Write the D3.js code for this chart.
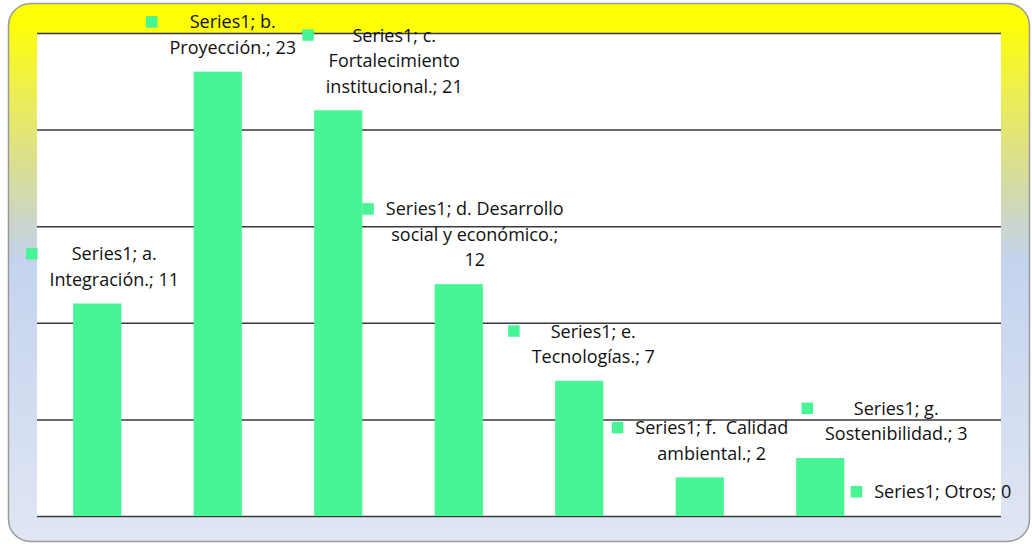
<!DOCTYPE html>
<html lang="es">
<head>
<meta charset="UTF-8">
<script src="https://cdnjs.cloudflare.com/ajax/libs/d3/7.8.5/d3.min.js"></script>
<style>
  * { margin: 0; padding: 0; }
  body { background: #fff; width: 1032px; height: 544px; overflow: hidden; }
  svg { display: block; font-family: 'Open Sans', sans-serif; }
  text { white-space: pre; }
</style>
</head>
<body>
<svg id="chart" width="1032" height="544"></svg>
<script>
// data
var seriesName = 'Series1';
var categories = ['a. Integración.', 'b. Proyección.', 'c. Fortalecimiento institucional.', 'd. Desarrollo social y económico.', 'e. Tecnologías.', 'f.  Calidad ambiental.', 'g. Sostenibilidad.', 'Otros'];
var values = [11, 23, 21, 12, 7, 2, 3, 0];
var yTicks = [0, 5, 10, 15, 20, 25];

// label layout (as placed in the original): wrapped lines and horizontal shift
var labelLines = [
  ['Series1; a.', 'Integración.; 11'],
  ['Series1; b.', 'Proyección.; 23'],
  ['Series1; c.', 'Fortalecimiento', 'institucional.; 21'],
  ['Series1; d. Desarrollo', 'social y económico.;', '12'],
  ['Series1; e.', 'Tecnologías.; 7'],
  ['Series1; f.  Calidad', 'ambiental.; 2'],
  ['Series1; g.', 'Sostenibilidad.; 3'],
  ['Series1; Otros; 0']
];
var labelDx = [17, 15, 56, 16, 14, 12, 76, 2];

var plot = { left: 37, right: 1001, top: 33, bottom: 516 };
var barColor = '#48f594';

var svg = d3.select('#chart');
var defs = svg.append('defs');

var grad = defs.append('linearGradient').attr('id', 'bg').attr('x1', 0).attr('y1', 0).attr('x2', 0).attr('y2', 1);
[[0, '#ffff00'], [0.04, '#fdfd08'], [0.18, '#ebec5a'], [0.32, '#d7dc9a'], [0.41, '#cad6cc'], [0.48, '#c4d3ee'], [1, '#e0e6f4']].forEach(function(s) {
  grad.append('stop').attr('offset', s[0]).attr('stop-color', s[1]);
});

// outer frame
svg.append('rect')
  .attr('x', 8.5).attr('y', 3.5).attr('width', 1021).attr('height', 538)
  .attr('rx', 22).attr('ry', 22)
  .attr('fill', 'url(#bg)')
  .attr('stroke', '#9a9a9a').attr('stroke-width', 1.5);

// plot area
svg.append('rect')
  .attr('x', plot.left).attr('y', plot.top)
  .attr('width', plot.right - plot.left).attr('height', plot.bottom - plot.top)
  .attr('fill', '#ffffff');

var x = d3.scaleBand().domain(categories).range([plot.left, plot.right]).paddingInner(0.6).paddingOuter(0.3);
var y = d3.scaleLinear().domain([0, 25]).range([plot.bottom, plot.top]);

// gridlines
var yAxis = d3.axisLeft(y).tickValues(yTicks).tickSize(-(plot.right - plot.left)).tickFormat('');
var gy = svg.append('g').attr('transform', 'translate(' + plot.left + ',0)').call(yAxis);
gy.select('.domain').remove();
gy.selectAll('.tick line').attr('stroke', '#3a3a3a').attr('stroke-width', 1.5);

// bars
svg.append('g').selectAll('rect')
  .data(values)
  .join('rect')
  .attr('x', function(d, i) { return x(categories[i]); })
  .attr('y', function(d) { return y(d); })
  .attr('width', x.bandwidth())
  .attr('height', function(d) { return y(0) - y(d); })
  .attr('fill', barColor);

// data labels
var lineH = 25.5;
var labels = svg.append('g').selectAll('g')
  .data(values)
  .join('g');

labels.each(function(d, i) {
  var g = d3.select(this);
  var lines = labelLines[i];
  var cx = x(categories[i]) + x.bandwidth() / 2 + labelDx[i];
  var lastY = y(d) - 24;
  var firstY = lastY - (lines.length - 1) * lineH;
  var t = g.append('text')
    .attr('text-anchor', 'middle')
    .attr('font-size', '18px')
    .attr('fill', '#111');
  lines.forEach(function(l, k) {
    t.append('tspan').attr('x', cx).attr('y', firstY + k * lineH).attr('dy', '0.35em').text(l);
  });
  var bb = t.node().getBBox();
  g.append('rect')
    .attr('x', bb.x - 12 - 11.5).attr('y', firstY - 6)
    .attr('width', 11.5).attr('height', 11.5)
    .attr('fill', barColor);
});
</script>
</body>
</html>
